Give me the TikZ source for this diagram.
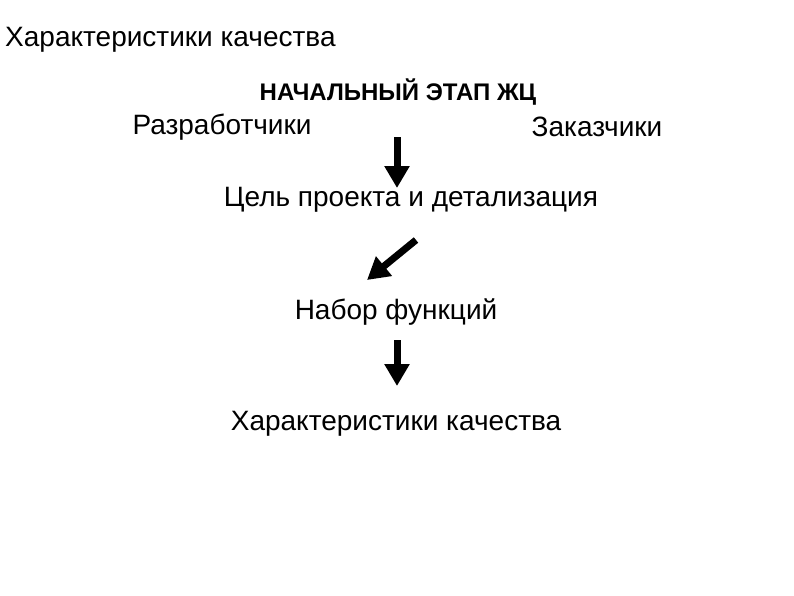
\documentclass[tikz,border=0pt]{standalone}
\usepackage{fontspec}
\setmainfont{Liberation Sans}
\usetikzlibrary{arrows.meta}
\begin{document}
\begin{tikzpicture}[x=1pt,y=-1pt,
  txt/.style={inner sep=0pt,font=\fontsize{28}{32}\selectfont},
  bigarrow/.style={line width=7pt,-{Triangle[width=24pt,length=22pt]}}]
\useasboundingbox (0,0) rectangle (794,595);
\node[txt,anchor=west] (title) at (5,40) {Характеристики качества};
\node[inner sep=0pt,font=\bfseries\fontsize{24}{28}\selectfont] (stage) at (398,92) {НАЧАЛЬНЫЙ ЭТАП ЖЦ};
\node[txt] (dev) at (222,127) {Разработчики};
\node[txt] (cust) at (597,127) {Заказчики};
\node[txt] (goal) at (411,200) {Цель проекта и детализация};
\node[txt] (func) at (396,312) {Набор функций};
\node[txt] (qual) at (396,424) {Характеристики качества};
\coordinate (a1s) at (397,137);
\coordinate (a1e) at (397,188);
\coordinate (a2s) at (416,240);
\coordinate (a2e) at (367,280);
\coordinate (a3s) at (397,340);
\coordinate (a3e) at (397,386);
\draw[bigarrow] (a1s) -- (a1e);
\draw[bigarrow] (a2s) -- (a2e);
\draw[bigarrow] (a3s) -- (a3e);
\end{tikzpicture}
\end{document}
